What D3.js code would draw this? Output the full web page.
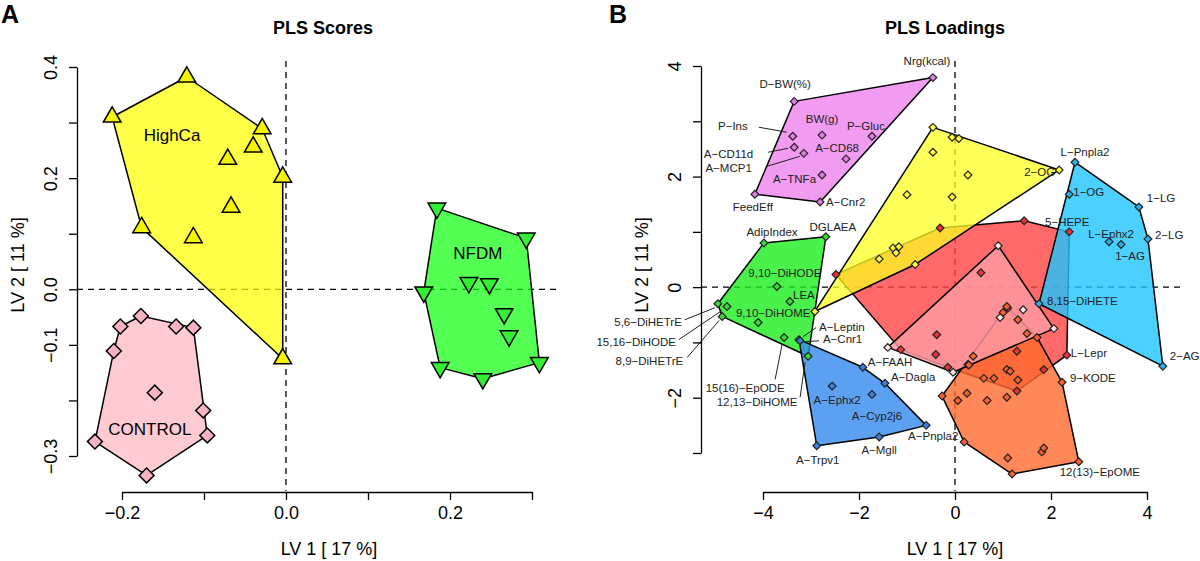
<!DOCTYPE html>
<html lang="en">
<head>
<meta charset="UTF-8">
<title>PLS scores and loadings</title>
<script src="https://cdn.jsdelivr.net/npm/d3@7"></script>
<style>
    body{ margin:0; background:#fff; }
    svg{ display:block; font-family:"Liberation Sans", Arial, sans-serif; }
    .dash{ stroke:#000; stroke-width:1.3; stroke-dasharray:6 5; }
    .hull{ stroke:#000; stroke-width:1.5; stroke-linejoin:round; }
    .lbl{ font-size:11.5px; fill:#222; }
    .axis text{ font-size:18px; fill:#000; }
    .axis path, .axis line{ stroke:#000; stroke-width:1.3; }
</style>
</head>
<body>
<script>
const width = 1200
const height = 561

// ---------- panel A : PLS scores (LV1, LV2) ----------
const highCa = [
    [-0.212, 0.310], [-0.121, 0.382], [-0.029, 0.289], [-0.040, 0.256], [-0.071, 0.234],
    [-0.004, 0.202], [-0.067, 0.148], [-0.176, 0.111], [-0.113, 0.093], [-0.004, -0.125]
]
const nfdm = [
    [0.184, 0.146], [0.293, 0.092], [0.168, -0.005], [0.223, 0.012], [0.248, 0.010],
    [0.266, -0.044], [0.272, -0.084], [0.188, -0.141], [0.240, -0.161], [0.309, -0.132]
]
const control = [
    [-0.177, -0.048], [-0.202, -0.067], [-0.134, -0.067], [-0.113, -0.069], [-0.210, -0.111],
    [-0.160, -0.186], [-0.101, -0.218], [-0.096, -0.263], [-0.233, -0.274], [-0.170, -0.335]
]
const groupNamesA = ["HighCa", "NFDM", "CONTROL"]
const groupLabelAtA = [[-0.139, 0.278], [0.234, 0.065], [-0.166, -0.251]]
const xTicksA = [-0.2, -0.1, 0.0, 0.1, 0.2, 0.3]
const xLabelsA = [-0.2, 0.0, 0.2]
const yTicksA = [-0.3, -0.2, -0.1, 0.0, 0.1, 0.2, 0.3, 0.4]
const yLabelsA = [-0.3, -0.1, 0.0, 0.2, 0.4]

// ---------- panel B : PLS loadings ----------
const violetPts = [
    ["D−BW(%)", -3.35, 3.36], ["Nrg(kcal)", -0.46, 3.79], ["P−Ins", -3.38, 2.73],
    ["BW(g)", -2.77, 2.75], ["P−Gluc", -1.73, 2.73], ["A−CD11d", -3.35, 2.53],
    ["A−MCP1", -3.15, 2.42], ["A−CD68", -2.27, 2.32], ["A−TNFa", -2.77, 2.03],
    ["A−Cnr2", -2.81, 1.54], ["FeedEff", -4.17, 1.68]
]
const greenPts = [
    ["AdipIndex", -3.98, 0.80], ["DGLAEA", -2.69, 0.91], ["9,10−DiHODE", -3.71, 0.01],
    ["LEA", -3.44, -0.26], ["9,10−DiHOME", -4.10, -0.64], ["5,6−DiHETrE", -4.94, -0.30],
    ["15,16−DiHODE", -4.75, -0.35], ["8,9−DiHETrE", -4.85, -0.53],
    ["15(16)−EpODE", -3.56, -0.91], ["12,13−DiHOME", -3.06, -1.25]
]
const bluePts = [
    ["A−Leptin", -3.25, -0.95], ["A−Cnr1", -3.23, -0.97], ["A−FAAH", -1.92, -1.45],
    ["A−Dagla", -1.46, -1.74], ["A−Ephx2", -2.56, -1.79], ["A−Cyp2j6", -1.73, -1.94],
    ["A−Pnpla2", -0.60, -2.50], ["A−Mgll", -1.58, -2.71], ["A−Trpv1", -2.88, -2.87]
]
const yellowPts = [
    ["", -0.46, 2.89], ["", -0.06, 2.71], ["", 0.08, 2.69], ["", -0.46, 2.44], ["", 0.27, 2.03],
    ["2−OG", 2.17, 2.12], ["", -1.00, 1.67], ["", -0.06, 1.63], ["", -1.58, 0.51], ["", -1.29, 0.71],
    ["", -1.17, 0.73], ["", -1.23, 0.62], ["", -0.83, 0.41], ["", -2.92, -0.44]
]
const redPts = [
    ["", -2.48, 0.23], ["", -0.31, 1.07], ["", 1.44, 1.20], ["5−HEPE", 2.38, 1.00], ["", 0.54, 0.26],
    ["L−Lepr", 2.33, -1.23], ["", 1.85, -1.49], ["", 1.29, -1.88], ["", -0.15, -1.45], ["", -1.13, -1.13],
    ["", -0.38, -0.86], ["", -0.40, -1.22], ["", 0.27, -1.40], ["", 1.29, -1.16], ["", 1.10, -0.38]
]
const pinkPts = [
    ["", 0.90, 0.75], ["", 1.42, -0.41], ["", 2.06, -0.75], ["", 0.94, -0.55],
    ["", -0.04, -1.54], ["", -1.40, -1.09]
]
const orangePts = [
    ["", 1.08, -0.35], ["", 1.00, -0.46], ["", 1.31, -0.59], ["", 1.71, -0.91], ["", 1.50, -0.84],
    ["9−KODE", 2.23, -1.72], ["12(13)−EpOME", 2.58, -3.16], ["", 1.19, -3.38], ["", 0.19, -2.80],
    ["", -0.27, -1.97], ["", 0.06, -2.05], ["", 0.25, -1.92], ["", 0.67, -2.05], ["", 1.08, -1.99],
    ["", 1.10, -3.09], ["", 1.81, -2.98], ["", 1.85, -2.91], ["", 0.60, -1.65], ["", 0.81, -1.65],
    ["", 1.08, -1.49], ["", 1.15, -1.52], ["", 1.31, -1.68], ["", 0.29, -1.41], ["", 0.38, -1.25]
]
const cyanPts = [
    ["L−Pnpla2", 2.50, 2.26], ["1−OG", 2.38, 1.68], ["1−LG", 3.83, 1.45], ["2−LG", 4.02, 0.87],
    ["L−Ephx2", 3.21, 0.82], ["1−AG", 3.46, 0.77], ["8,15−DiHETE", 1.75, -0.30], ["2−AG", 4.33, -1.43]
]
const xTicksB = [-4, -2, 0, 2, 4]
const yTicksB = [-3, -2, -1, 0, 1, 2, 3, 4]
const yLabelsB = [-2, 0, 2, 4]

// label placement in px relative to the point: dx, dy, anchor
const labelLayout = {
    "D−BW(%)": [-9, -17, "middle"], "Nrg(kcal)": [-6, -17, "middle"], "P−Ins": [-45, -10, "end"],
    "BW(g)": [0, -16, "middle"], "P−Gluc": [-6, -10, "middle"], "A−CD11d": [-41, 7, "end"],
    "A−MCP1": [-52, 15, "end"], "A−CD68": [-9, -11, "middle"], "A−TNFa": [-6, 4, "end"],
    "A−Cnr2": [6, 0, "start"], "FeedEff": [-2, 13, "middle"],
    "AdipIndex": [8, -11, "middle"], "DGLAEA": [7, -10, "middle"], "9,10−DiHODE": [8, -14, "middle"],
    "LEA": [14, -7, "middle"], "9,10−DiHOME": [15, -10, "middle"], "5,6−DiHETrE": [-36, 18, "end"],
    "15,16−DiHODE": [-51, 35, "end"], "8,9−DiHETrE": [-39, 45, "end"],
    "15(16)−EpODE": [-39, 51, "middle"], "12,13−DiHOME": [-51, 46, "middle"],
    "A−Leptin": [20, -13, "start"], "A−Cnr1": [23, -2, "start"], "A−FAAH": [5, -5, "start"],
    "A−Dagla": [6, -6, "start"], "A−Ephx2": [5, 14, "middle"], "A−Cyp2j6": [5, 22, "middle"],
    "A−Pnpla2": [7, 11, "middle"], "A−Mgll": [0, 13, "middle"], "A−Trpv1": [1, 14, "middle"],
    "2−OG": [-4, 2, "end"], "5−HEPE": [-2, -10, "middle"], "L−Lepr": [4, -2, "start"],
    "9−KODE": [8, -4, "start"], "12(13)−EpOME": [21, 10, "middle"],
    "L−Pnpla2": [10, -10, "middle"], "1−OG": [4, -2, "start"], "1−LG": [8, -9, "start"],
    "2−LG": [7, -4, "start"], "L−Ephx2": [2, -8, "middle"], "1−AG": [9, 11, "middle"],
    "8,15−DiHETE": [8, -3, "start"], "2−AG": [7, -10, "start"]
}
// leader lines (x1,y1,x2,y2) relative to the point
const leaders = {
    "P−Ins": [-34, -9, -6, -4], "A−CD11d": [-26, 5, -6, 1], "A−MCP1": [-37, 13, -4, 3],
    "5,6−DiHETrE": [-33, 16, -3, 4], "15,16−DiHODE": [-48, 33, -5, 4], "8,9−DiHETrE": [-35, 41, -3, 4],
    "15(16)−EpODE": [-9, 42, -2, 7], "12,13−DiHOME": [-8, 41, -3, 6],
    "A−Leptin": [17, -12, 4, -3], "A−Cnr1": [19, 0, 5, 1]
}

let svg = d3.select("body").append("svg")
    .attr("width", width).attr("height", height)
    .attr("viewBox", `0 0 ${width} ${height}`)

// ================= PANEL A =================
const xA = d3.scaleLinear().domain([-0.2, 0.3]).range([122, 532])
const yA = d3.scaleLinear().domain([-0.3, 0.4]).range([456, 67])
const fmtA = d3.format(".1f")

let gA = svg.append("g")

gA.append("line").attr("class", "dash")
    .attr("x1", 77).attr("x2", 557).attr("y1", yA(0)).attr("y2", yA(0))
gA.append("line").attr("class", "dash")
    .attr("x1", xA(0)).attr("x2", xA(0)).attr("y1", 61).attr("y2", 491)

const groupsA = [
    {pts: highCa, fill: "#ffff00", mark: "#f4f400", sym: "up"},
    {pts: nfdm, fill: "#11ff11", mark: "#33ee33", sym: "down"},
    {pts: control, fill: "#ffb6c1", mark: "#f7b3c3", sym: "diamond"}
]

groupsA.forEach((g, i) => {
    const px = g.pts.map(d => [xA(d[0]), yA(d[1])])
    const hull = d3.polygonHull(px)
    gA.append("path").attr("class", "hull")
        .attr("d", "M" + hull.join("L") + "Z")
        .attr("fill", g.fill).attr("fill-opacity", 0.72)
})
groupsA.forEach((g, i) => {
    const sym = g.sym === "diamond"
        ? d3.symbol().type(d3.symbolSquare).size(112)
        : d3.symbol().type(d3.symbolTriangle).size(135)
    const rot = g.sym === "diamond" ? 45 : (g.sym === "down" ? 180 : 0)
    gA.selectAll(null).data(g.pts).enter().append("path")
        .attr("d", sym)
        .attr("transform", d => `translate(${xA(d[0])},${yA(d[1])}) rotate(${rot})`)
        .attr("fill", g.mark).attr("stroke", "#000").attr("stroke-width", 1.5)
    gA.append("text")
        .attr("x", xA(groupLabelAtA[i][0])).attr("y", yA(groupLabelAtA[i][1]))
        .attr("dy", "0.35em").attr("text-anchor", "middle")
        .style("font-size", "17px").text(groupNamesA[i])
})

// axes A
gA.append("g").attr("class", "axis").attr("transform", "translate(0,492)")
    .call(d3.axisBottom(xA).tickValues(xTicksA).tickSize(8).tickSizeOuter(0).tickPadding(6)
        .tickFormat(d => xLabelsA.some(v => Math.abs(v - d) < 1e-9) ? fmtA(d) : ""))
let axAy = gA.append("g").attr("class", "axis").attr("transform", "translate(77,0)")
    .call(d3.axisLeft(yA).tickValues(yTicksA).tickSize(8).tickSizeOuter(0)
        .tickFormat(d => yLabelsA.some(v => Math.abs(v - d) < 1e-9) ? fmtA(d) : ""))
axAy.selectAll(".tick text")
    .attr("transform", "rotate(-90)").attr("x", 0).attr("y", -20).attr("dy", 0)
    .attr("text-anchor", "middle")

gA.append("text").attr("x", 323).attr("y", 34).attr("text-anchor", "middle")
    .style("font-size", "18px").style("font-weight", "bold").text("PLS Scores")
gA.append("text").attr("x", 329).attr("y", 555).attr("text-anchor", "middle")
    .style("font-size", "18px").text("LV 1 [ 17 %]")
gA.append("text").attr("transform", "translate(24,265) rotate(-90)").attr("text-anchor", "middle")
    .style("font-size", "18px").text("LV 2 [ 11 %]")
svg.append("text").attr("x", 1).attr("y", 23)
    .style("font-size", "25px").style("font-weight", "bold").text("A")

// ================= PANEL B =================
const xB = d3.scaleLinear().domain([-4, 4]).range([763, 1147])
const yB = d3.scaleLinear().domain([-3, 4]).range([453, 66])

let gB = svg.append("g")

gB.append("line").attr("class", "dash")
    .attr("x1", 701).attr("x2", 1182).attr("y1", yB(0)).attr("y2", yB(0))
gB.append("line").attr("class", "dash")
    .attr("x1", xB(0)).attr("x2", xB(0)).attr("y1", 61).attr("y2", 491)

// drawing order matters: later hulls cover earlier ones
const groupsB = [
    {pts: redPts, fill: "#ff4444", op: 0.8, mark: "#e83434"},
    {pts: yellowPts, fill: "#ffff22", op: 0.75, mark: "#ffff33"},
    {pts: orangePts, fill: "#ff6a30", op: 0.8, mark: "#f9622e"},
    {pts: pinkPts, fill: "#ff9aa4", op: 0.82, mark: "#ffe6ea"},
    {pts: violetPts, fill: "#ee82ee", op: 0.8, mark: "#e27ce2"},
    {pts: greenPts, fill: "#1eee1e", op: 0.8, mark: "#3ad83a"},
    {pts: bluePts, fill: "#3388ee", op: 0.8, mark: "#3a80d8"},
    {pts: cyanPts, fill: "#1ec4ff", op: 0.8, mark: "#26b2ea"}
]

groupsB.forEach(g => {
    const px = g.pts.map(d => [xB(d[1]), yB(d[2])])
    const hull = d3.polygonHull(px)
    gB.append("path").attr("class", "hull")
        .attr("d", "M" + hull.join("L") + "Z")
        .attr("fill", g.fill).attr("fill-opacity", g.op)
})

const diamond = d3.symbol().type(d3.symbolSquare).size(30)
groupsB.forEach(g => {
    gB.selectAll(null).data(g.pts).enter().append("path")
        .attr("d", diamond)
        .attr("transform", d => `translate(${xB(d[1])},${yB(d[2])}) rotate(45)`)
        .attr("fill", g.mark).attr("stroke", "#222").attr("stroke-width", 1.2)
})

// labels + leader lines
groupsB.forEach(g => {
    g.pts.filter(d => d[0] !== "").forEach(d => {
        const px = xB(d[1]), py = yB(d[2])
        const lay = labelLayout[d[0]] || [0, -10, "middle"]
        const ld = leaders[d[0]]
        if (ld) {
            gB.append("line")
                .attr("x1", px + ld[0]).attr("y1", py + ld[1])
                .attr("x2", px + ld[2]).attr("y2", py + ld[3])
                .attr("stroke", "#222").attr("stroke-width", 1)
        }
        gB.append("text").attr("class", "lbl")
            .attr("x", px + lay[0]).attr("y", py + lay[1]).attr("dy", "0.35em")
            .attr("text-anchor", lay[2]).text(d[0])
    })
})

// axes B
gB.append("g").attr("class", "axis").attr("transform", "translate(0,492)")
    .call(d3.axisBottom(xB).tickValues(xTicksB).tickSize(8).tickSizeOuter(0).tickPadding(6))
let axBy = gB.append("g").attr("class", "axis").attr("transform", "translate(701,0)")
    .call(d3.axisLeft(yB).tickValues(yTicksB).tickSize(8).tickSizeOuter(0)
        .tickFormat(d => yLabelsB.includes(d) ? d3.format("d")(d) : ""))
axBy.selectAll(".tick text")
    .attr("transform", "rotate(-90)").attr("x", 0).attr("y", -20).attr("dy", 0)
    .attr("text-anchor", "middle")

gB.append("text").attr("x", 945).attr("y", 34).attr("text-anchor", "middle")
    .style("font-size", "18px").style("font-weight", "bold").text("PLS Loadings")
gB.append("text").attr("x", 955).attr("y", 555).attr("text-anchor", "middle")
    .style("font-size", "18px").text("LV 1 [ 17 %]")
gB.append("text").attr("transform", "translate(648,265) rotate(-90)").attr("text-anchor", "middle")
    .style("font-size", "18px").text("LV 2 [ 11 %]")
svg.append("text").attr("x", 609).attr("y", 23)
    .style("font-size", "25px").style("font-weight", "bold").text("B")
</script>
</body>
</html>
